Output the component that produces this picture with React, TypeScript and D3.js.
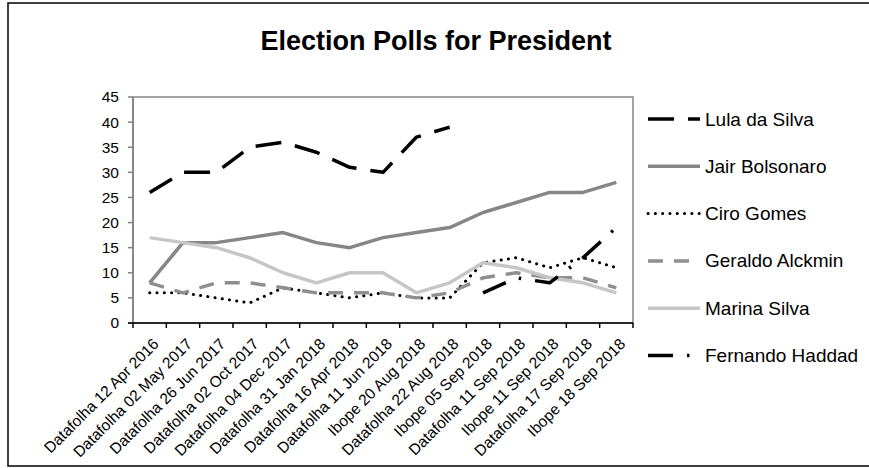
import React from "react";
import * as d3 from "d3";

const FONT = "Arial, 'Liberation Sans', sans-serif";

const categories = [
  "Datafolha 12 Apr 2016",
  "Datafolha 02 May 2017",
  "Datafolha 26 Jun 2017",
  "Datafolha 02 Oct 2017",
  "Datafolha 04 Dec 2017",
  "Datafolha 31 Jan 2018",
  "Datafolha 16 Apr 2018",
  "Datafolha 11 Jun 2018",
  "Ibope 20 Aug 2018",
  "Datafolha 22 Aug 2018",
  "Ibope 05 Sep 2018",
  "Datafolha 11 Sep 2018",
  "Ibope 11 Sep 2018",
  "Datafolha 17 Sep 2018",
  "Ibope 18 Sep 2018",
];

const lula = [26, 30, 30, 35, 36, 34, 31, 30, 37, 39, null, null, null, null, null];
const bolsonaro = [8, 16, 16, 17, 18, 16, 15, 17, 18, 19, 22, 24, 26, 26, 28];
const ciro = [6, 6, 5, 4, 7, 6, 5, 6, 5, 5, 12, 13, 11, 13, 11];
const alckmin = [8, 6, 8, 8, 7, 6, 6, 6, 5, 6, 9, 10, 9, 9, 7];
const marina = [17, 16, 15, 13, 10, 8, 10, 10, 6, 8, 12, 11, 9, 8, 6];
const haddad = [null, null, null, null, null, null, null, null, null, null, 6, 9, 8, 13, 19];

const seriesNames = [
  "Lula da Silva",
  "Jair Bolsonaro",
  "Ciro Gomes",
  "Geraldo Alckmin",
  "Marina Silva",
  "Fernando Haddad",
];
const seriesValues = [lula, bolsonaro, ciro, alckmin, marina, haddad];

// line looks per series
const styles = [
  { color: "#000", width: 3.5, dash: "26 14", cap: "butt" },
  { color: "#868686", width: 3.5, dash: null, cap: "butt" },
  { color: "#000", width: 3, dash: "0.1 7.2", cap: "round" },
  { color: "#8f8f8f", width: 3.5, dash: "15 11", cap: "butt" },
  { color: "#c6c6c6", width: 3.5, dash: null, cap: "butt" },
  { color: "#000", width: 3.5, dash: "25 14 2.5 14", cap: "butt" },
];

const W = 869;
const H = 468;
const plot = { left: 133, right: 633, top: 97, bottom: 323 };

export default function App() {
  const x = d3
    .scaleBand<string>()
    .domain(categories)
    .range([plot.left, plot.right])
    .padding(0);
  const y = d3.scaleLinear().domain([0, 45]).range([plot.bottom, plot.top]);
  const cx = (c: string) => (x(c) as number) + x.bandwidth() / 2;

  const line = d3
    .line<number | null>()
    .defined((d) => d !== null)
    .x((_, i) => cx(categories[i]))
    .y((d) => y(d as number));

  const yTicks = y.ticks(9);
  const boundaries = [...categories.map((c) => x(c) as number), plot.right];

  const legendX = 648;
  const legendTop = 119;
  const legendStep = 47.3;

  return (
    <svg
      width={W}
      height={H}
      style={{ position: "absolute", left: 0, top: 0, background: "#fff" }}
      fontFamily={FONT}
    >
      <rect x={8} y={3} width={W} height={463} fill="#fff" stroke="#000" strokeWidth={1.5} />

      <text x={436} y={50} textAnchor="middle" fontSize={27} fontWeight="bold" fill="#000">
        Election Polls for President
      </text>

      {/* plot frame */}
      <rect
        x={plot.left}
        y={plot.top}
        width={plot.right - plot.left}
        height={plot.bottom - plot.top}
        fill="none"
        stroke="#868686"
        strokeWidth={1.5}
      />

      {/* y axis */}
      <line x1={plot.left} x2={plot.left} y1={plot.top} y2={plot.bottom} stroke="#808080" strokeWidth={1.5} />
      {yTicks.map((t) => (
        <g key={t}>
          <line x1={plot.left - 5} x2={plot.left} y1={y(t)} y2={y(t)} stroke="#808080" strokeWidth={1.5} />
          <text x={plot.left - 14} y={y(t)} dy="0.35em" textAnchor="end" fontSize={15.5} fill="#000">
            {t}
          </text>
        </g>
      ))}

      {/* x axis */}
      <line x1={plot.left - 5} x2={plot.right} y1={plot.bottom} y2={plot.bottom} stroke="#000" strokeWidth={1.5} />
      {boundaries.map((b, i) => (
        <line key={i} x1={b} x2={b} y1={plot.bottom} y2={plot.bottom + 5} stroke="#000" strokeWidth={1.5} />
      ))}
      {categories.map((c) => (
        <text
          key={c}
          transform={`translate(${cx(c) + 10},${plot.bottom + 22}) rotate(-45)`}
          textAnchor="end"
          fontSize={15.5}
          fill="#000"
        >
          {c}
        </text>
      ))}

      {/* series */}
      {seriesValues.map((vals, i) => (
        <path
          key={seriesNames[i]}
          d={line(vals) || ""}
          fill="none"
          stroke={styles[i].color}
          strokeWidth={styles[i].width}
          strokeDasharray={styles[i].dash || undefined}
          strokeLinecap={styles[i].cap as any}
          strokeLinejoin="round"
        />
      ))}

      {/* legend */}
      {seriesNames.map((name, i) => {
        const ly = legendTop + i * legendStep;
        return (
          <g key={name}>
            <line
              x1={legendX}
              x2={legendX + 52}
              y1={ly}
              y2={ly}
              stroke={styles[i].color}
              strokeWidth={styles[i].width}
              strokeDasharray={styles[i].dash || undefined}
              strokeLinecap={styles[i].cap as any}
            />
            <text x={legendX + 57} y={ly + 6.5} fontSize={19} fill="#000">
              {name}
            </text>
          </g>
        );
      })}
    </svg>
  );
}
